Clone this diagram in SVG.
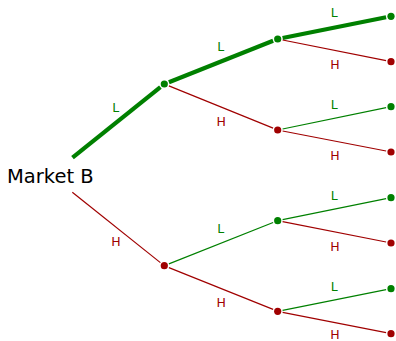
<svg xmlns="http://www.w3.org/2000/svg" width="396" height="341" viewBox="0 0 396 341">
<style>
.g{stroke:#008000;fill:none;stroke-width:1.2}
.r{stroke:#a00000;fill:none;stroke-width:1.2}
.t{stroke:#008000;fill:none;stroke-width:4.2;stroke-linecap:butt}
.dg{fill:#008000}
.dr{fill:#a00000}
.lg{fill:#008000;font-family:"DejaVu Sans",sans-serif;font-size:12.5px;text-anchor:middle;dominant-baseline:central}
.lr{fill:#a00000;font-family:"DejaVu Sans",sans-serif;font-size:12.5px;text-anchor:middle;dominant-baseline:central}
.root{fill:#000;font-family:"DejaVu Sans",sans-serif;font-size:19.5px}
</style>
<g id="connectors">
<line class="t" x1="72.5" y1="157.7" x2="160.4" y2="87.1"/>
<line class="r" x1="72.3" y1="192.3" x2="160.4" y2="262.6"/>
<line class="t" x1="168.9" y1="82.2" x2="273.1" y2="40.8"/>
<line class="r" x1="168.9" y1="85.9" x2="273.1" y2="128.1"/>
<line class="g" x1="168.9" y1="263.9" x2="273.1" y2="222.5"/>
<line class="r" x1="168.9" y1="267.6" x2="273.1" y2="309.4"/>
<line class="t" x1="282.6" y1="38.0" x2="386.1" y2="17.3"/>
<line class="r" x1="282.6" y1="40.0" x2="386.1" y2="60.7"/>
<line class="g" x1="282.6" y1="129.0" x2="386.1" y2="107.7"/>
<line class="r" x1="282.6" y1="131.0" x2="386.1" y2="151.0"/>
<line class="g" x1="282.6" y1="219.7" x2="386.1" y2="198.7"/>
<line class="r" x1="282.6" y1="221.7" x2="386.1" y2="242.0"/>
<line class="g" x1="282.6" y1="310.3" x2="386.1" y2="289.7"/>
<line class="r" x1="282.6" y1="312.3" x2="386.1" y2="332.7"/>
<text class="lg" x="115.7" y="107.3">L</text>
<text class="lr" x="116" y="241.7">H</text>
<text class="lg" x="220.7" y="46.7">L</text>
<text class="lr" x="221.3" y="121.7">H</text>
<text class="lg" x="220.7" y="228.7">L</text>
<text class="lr" x="221.3" y="302.7">H</text>
<text class="lg" x="334.3" y="12.7">L</text>
<text class="lr" x="335" y="64.3">H</text>
<text class="lg" x="334.3" y="104.5">L</text>
<text class="lr" x="335" y="155.3">H</text>
<text class="lg" x="334.3" y="195">L</text>
<text class="lr" x="335" y="246.7">H</text>
<text class="lg" x="334.3" y="286.7">L</text>
<text class="lr" x="335" y="334.3">H</text>
</g>
<g id="root"><text class="root" x="7" y="182.5">Market B</text></g>
<g id="n-L"><circle class="dg" cx="164.3" cy="84" r="3.6"/></g>
<g id="n-H"><circle class="dr" cx="164.3" cy="265.7" r="3.6"/></g>
<g id="n-LL"><circle class="dg" cx="277.7" cy="39" r="3.6"/></g>
<g id="n-LH"><circle class="dr" cx="277.7" cy="130" r="3.6"/></g>
<g id="n-HL"><circle class="dg" cx="277.7" cy="220.7" r="3.6"/></g>
<g id="n-HH"><circle class="dr" cx="277.7" cy="311.3" r="3.6"/></g>
<g id="n-LLL"><circle class="dg" cx="391" cy="16.3" r="3.6"/></g>
<g id="n-LLH"><circle class="dr" cx="391" cy="61.7" r="3.6"/></g>
<g id="n-LHL"><circle class="dg" cx="391" cy="106.7" r="3.6"/></g>
<g id="n-LHH"><circle class="dr" cx="391" cy="152" r="3.6"/></g>
<g id="n-HLL"><circle class="dg" cx="391" cy="197.7" r="3.6"/></g>
<g id="n-HLH"><circle class="dr" cx="391" cy="243" r="3.6"/></g>
<g id="n-HHL"><circle class="dg" cx="391" cy="288.7" r="3.6"/></g>
<g id="n-HHH"><circle class="dr" cx="391" cy="333.7" r="3.6"/></g>
</svg>
